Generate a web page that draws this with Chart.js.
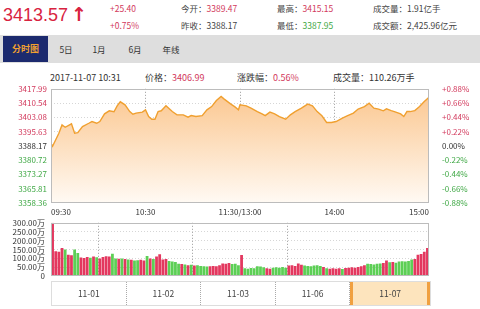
<!DOCTYPE html>
<html lang="zh-CN">
<head>
<meta charset="UTF-8">
<title>上证指数 分时图</title>
<style>
  body { margin:0; width:480px; height:309px; overflow:hidden; background:#fff; position:relative;
         font-family:"Noto Sans CJK SC","Liberation Sans",sans-serif; color:#333; }
  .a { position:absolute; white-space:nowrap; }
  .s { font-size:8.5px; line-height:12px; color:#444; }
  .red { color:#d2395c; }
  .grn { color:#3fa845; }
  #last { left:3px; top:2px; font-size:18px; line-height:24px; color:#d8233f; font-family:"Liberation Sans","Noto Sans",sans-serif; }
  #last b { font-family:"DejaVu Sans",sans-serif; font-size:19px; margin-left:3px; }
  #tabs { left:0; top:35px; width:480px; height:28px; background:#dedede; }
  #tabs .on { position:absolute; left:3px; top:1px; width:45px; height:26px; background:#1c2a6e; color:#f0a030;
              font-size:9px; font-weight:bold; line-height:26px; text-align:center; }
  #tabs span.t { position:absolute; top:0; line-height:28px; font-size:8.5px; color:#333; transform:translateX(-50%); }
  .info { top:72px; font-size:9px; line-height:12px; color:#333; }
  canvas { position:absolute; left:0; }
  #nav { left:51px; top:281px; width:378px; height:23px; border:1px solid #ddd; display:flex; }
  #nav div { flex:1; font-size:8.5px; line-height:23px; text-align:center; color:#444; border-right:1px dotted #aaa; }
  #nav div:last-child { border-right:none; }
  #nav div.cur { background:#fde4bd; border-left:3px solid #f0a040; border-right:3px solid #f0a040; }
</style>
</head>
<body>
  <div id="last" class="a">3413.57<b>↑</b></div>
  <div class="a s red" style="left:110px;top:2px">+25.40</div>
  <div class="a s red" style="left:110px;top:19px">+0.75%</div>
  <div class="a s" style="left:181px;top:2px">今开：<span class="red">3389.47</span></div>
  <div class="a s" style="left:181px;top:19px">昨收：3388.17</div>
  <div class="a s" style="left:277px;top:2px">最高：<span class="red">3415.15</span></div>
  <div class="a s" style="left:277px;top:19px">最低：<span class="grn">3387.95</span></div>
  <div class="a s" style="left:373px;top:2px">成交量：1.91亿手</div>
  <div class="a s" style="left:373px;top:19px">成交额：2,425.96亿元</div>

  <div id="tabs" class="a">
    <div class="on">分时图</div>
    <span class="t" style="left:66px">5日</span>
    <span class="t" style="left:99px">1月</span>
    <span class="t" style="left:135px">6月</span>
    <span class="t" style="left:171px">年线</span>
  </div>

  <div class="a info" style="left:50px">2017-11-07 10:31</div>
  <div class="a info" style="left:145px">价格：<span class="red">3406.99</span></div>
  <div class="a info" style="left:237px">涨跌幅：<span class="red">0.56%</span></div>
  <div class="a info" style="left:333px">成交量：110.26万手</div>

  <canvas id="price" width="480" height="141" style="top:79px"></canvas>
  <canvas id="vol" width="480" height="75" style="top:212px"></canvas>

  <div id="nav" class="a">
    <div>11-01</div><div>11-02</div><div>11-03</div><div>11-06</div><div class="cur">11-07</div>
  </div>

<script src="https://cdn.jsdelivr.net/npm/chart.js"></script>
<script>
// trading minutes since 09:30 (lunch break removed), and index price
const minutes = [0,1,5,7,9,13,15,17,20,24,26,29,31,34,37,40,42,44,47,50,52,54,58,60,62,64,66,68,70,73,77,80,84,87,89,92,96,99,102,105,108,110,114,117,119,120,124,127,131,134,136,139,142,145,149,152,155,159,163,166,169,172,175,178,181,185,188,192,195,199,202,205,208,211,213,216,218,222,224,226,228,231,234,237,240];
const prices = [3389.5,3388.0,3394.8,3399.1,3397.9,3399.7,3394.8,3395.1,3398.3,3400.0,3400.9,3400.0,3400.9,3404.9,3406.5,3406.0,3409.1,3411.2,3409.6,3406.1,3404.7,3405.3,3405.8,3407.0,3403.5,3402.1,3402.1,3406.1,3406.5,3409.1,3406.1,3404.4,3404.4,3403.2,3404.0,3403.5,3404.0,3407.0,3408.7,3411.9,3414.0,3412.6,3410.1,3408.4,3407.0,3409.6,3409.1,3407.9,3406.1,3404.9,3404.0,3405.8,3404.9,3403.5,3402.1,3404.4,3406.1,3407.9,3410.0,3409.1,3406.1,3403.9,3400.4,3400.4,3400.9,3402.7,3403.9,3405.3,3407.4,3408.7,3410.5,3407.9,3407.4,3406.5,3407.5,3406.6,3406.1,3404.9,3403.5,3406.1,3406.1,3406.6,3408.7,3411.3,3413.6];

// volume (万), one bar per 2 minutes; 1 = up bar, -1 = down bar
const volumes = [
  300,140,138,158,150,120,118,150,130,105,
  102,108,104,110,106,100,108,112,110,126,
  100,98,100,96,94,92,88,90,92,88,
  114,100,96,110,124,94,96,85,82,80,
  70,68,66,62,64,60,62,58,56,55,
  56,58,56,62,72,70,74,68,70,62,
  119,45,42,46,44,56,54,50,44,42,
  48,50,48,52,48,60,62,58,72,64,
  60,58,56,60,62,58,52,44,42,44,
  42,44,40,46,48,50,48,52,56,62,
  70,68,66,70,72,74,88,78,80,76,
  82,84,82,86,94,96,120,125,138,158
];
const volDir = [
  1,1,1,1,-1,1,1,-1,-1,1,
  1,1,-1,1,-1,1,1,1,1,-1,
  -1,1,-1,1,-1,1,-1,-1,1,1,
  -1,1,-1,1,1,1,1,-1,-1,-1,
  -1,1,-1,1,-1,1,-1,-1,-1,-1,
  1,1,1,1,1,1,1,-1,-1,-1,
  1,-1,-1,-1,-1,-1,-1,-1,1,1,
  -1,-1,-1,-1,-1,1,1,1,1,1,
  -1,-1,-1,-1,-1,-1,1,-1,1,1,
  1,1,-1,1,1,1,1,1,1,1,
  -1,-1,-1,-1,-1,1,1,-1,1,-1,
  -1,-1,-1,-1,-1,1,1,1,1,1
];

const timeTicks = [0, 60, 120, 180, 240];
const timeLabels = ['09:30', '10:30', '11:30/13:00', '14:00', '15:00'];
const priceTicks = [3358.36, 3365.81, 3373.27, 3380.72, 3388.17, 3395.63, 3403.08, 3410.54, 3417.99];
const pctTicks = [-0.88, -0.66, -0.44, -0.22, 0, 0.22, 0.44, 0.66, 0.88];
const volTicks = [0, 50, 100, 150, 200, 250, 300];

const RED = '#d2395c', GREEN = '#3fa845';
Chart.defaults.font.family = '"Noto Sans CJK SC","Liberation Sans",sans-serif';
Chart.defaults.font.size = 8;

// solid box round the plot area
const frame = {
  id: 'frame',
  afterDatasetsDraw(chart) {
    const a = chart.chartArea, ctx = chart.ctx;
    ctx.save();
    ctx.strokeStyle = '#bcbcbc';
    ctx.lineWidth = 1;
    ctx.strokeRect(Math.round(a.left) + 0.5, Math.round(a.top) + 0.5,
                   Math.round(a.right - a.left) - 1, Math.round(a.bottom - a.top) - 1);
    ctx.restore();
  }
};

const sideColor = c => c.index < 4 ? GREEN : (c.index > 4 ? RED : '#333');
const vGrid = c => (c.index === 0 || c.index === timeTicks.length - 1) ? 'rgba(0,0,0,0)' : '#999';
const hGrid = n => c => (c.index === 0 || c.index === n - 1) ? 'rgba(0,0,0,0)' : '#d6d6d6';

new Chart(document.getElementById('price'), {
  type: 'line',
  data: {
    datasets: [{
      data: minutes.map((m, i) => ({ x: m, y: prices[i] })),
      borderColor: '#f0a030',
      borderWidth: 1.4,
      pointRadius: 0,
      tension: 0,
      fill: 'start',
      backgroundColor: ctx => {
        const a = ctx.chart.chartArea;
        if (!a) return '#fde0c0';
        const g = ctx.chart.ctx.createLinearGradient(0, a.top, 0, a.bottom);
        g.addColorStop(0, '#fbc58c');
        g.addColorStop(1, '#fffaf4');
        return g;
      }
    }]
  },
  options: {
    responsive: false, animation: false, events: [],
    devicePixelRatio: 1,
    layout: { padding: { top: 9 } },
    plugins: { legend: { display: false }, tooltip: { enabled: false } },
    scales: {
      x: {
        type: 'linear', min: 0, max: 240,
        afterBuildTicks: s => { s.ticks = timeTicks.map(v => ({ value: v })); },
        afterFit: s => { s.height = 17; },
        ticks: { align: 'inner', maxRotation: 0, autoSkip: false, padding: 4, color: '#333',
                 callback: (v, i) => timeLabels[i] },
        grid: { color: vGrid, drawTicks: false },
        border: { display: false, dash: [1, 2] }
      },
      y: {
        position: 'left', min: priceTicks[0], max: priceTicks[priceTicks.length - 1],
        afterBuildTicks: s => { s.ticks = priceTicks.map(v => ({ value: v })); },
        afterFit: s => { s.width = 51; },
        ticks: { padding: 4, color: sideColor, autoSkip: false, callback: v => v.toFixed(2) },
        grid: { color: hGrid(priceTicks.length), drawTicks: false },
        border: { display: false, dash: [1, 2] }
      },
      y2: {
        position: 'right', min: pctTicks[0], max: pctTicks[pctTicks.length - 1],
        afterBuildTicks: s => { s.ticks = pctTicks.map(v => ({ value: v })); },
        afterFit: s => { s.width = 51; },
        ticks: { padding: 5, color: sideColor, autoSkip: false,
                 callback: v => (v > 0 ? '+' : '') + v.toFixed(2) + '%' },
        grid: { display: false },
        border: { display: false }
      }
    }
  },
  plugins: [frame]
});

new Chart(document.getElementById('vol'), {
  type: 'bar',
  data: {
    datasets: [{
      data: volumes.map((v, i) => ({ x: i * 2 + 1, y: v })),
      backgroundColor: volDir.map(d => d > 0 ? '#e3385f' : '#5ccf55'),
      barPercentage: 1,
      categoryPercentage: 0.88
    }]
  },
  options: {
    responsive: false, animation: false, events: [],
    devicePixelRatio: 1,
    layout: { padding: { right: 51 } },
    plugins: { legend: { display: false }, tooltip: { enabled: false } },
    scales: {
      x: {
        type: 'linear', min: 0, max: 240, offset: false,
        afterBuildTicks: s => { s.ticks = timeTicks.map(v => ({ value: v })); },
        afterFit: s => { s.height = 0; },
        ticks: { display: false },
        grid: { color: vGrid, drawTicks: false },
        border: { display: false, dash: [1, 2] }
      },
      y: {
        min: 0, max: 300,
        afterBuildTicks: s => { s.ticks = volTicks.map(v => ({ value: v })); },
        afterFit: s => { s.width = 51; },
        ticks: { padding: 6, color: '#333', autoSkip: false,
                 callback: v => v === 0 ? '0' : v.toFixed(2) + '万' },
        grid: { color: hGrid(volTicks.length), drawTicks: false },
        border: { display: false, dash: [1, 2] }
      }
    }
  },
  plugins: [frame]
});
</script>
</body>
</html>
